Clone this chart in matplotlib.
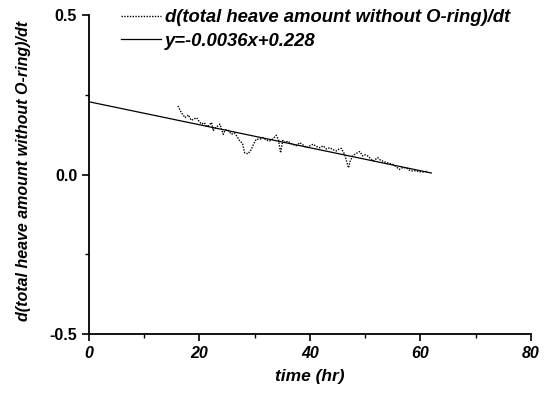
import numpy as np
import matplotlib
matplotlib.use("Agg")
import matplotlib.pyplot as plt
from matplotlib.ticker import MultipleLocator

# time (hr) and derivative values
time_hr = [16.1, 16.7, 17.4, 18.0, 18.5, 18.9, 19.5, 20.0, 20.4, 20.9, 21.3, 21.8,
           22.2, 22.5, 23.0, 23.7, 24.3, 24.7, 25.2, 25.8, 26.3, 26.8, 27.3, 27.8,
           28.2, 28.8, 29.4, 29.8, 30.3, 30.9, 31.5, 32.1, 32.7, 33.3, 33.9, 34.3,
           34.7, 35.1, 35.6, 36.0, 36.5, 36.9, 37.5, 38.2, 38.8, 39.4, 40.0, 40.6,
           41.2, 41.8, 42.4, 43.0, 43.6, 44.2, 44.8, 45.3, 45.7, 46.3, 47.0, 47.3,
           47.8, 48.4, 49.0, 49.6, 50.0, 50.5, 51.0, 51.4, 51.9, 52.3, 52.8, 53.2,
           53.8, 54.4, 55.0, 55.6, 56.2, 56.8, 57.5, 58.0, 58.6, 59.2, 59.9, 60.6,
           61.4]
rate = [0.215, 0.195, 0.178, 0.187, 0.170, 0.173, 0.178, 0.165, 0.158, 0.162, 0.150, 0.155,
        0.163, 0.137, 0.148, 0.158, 0.126, 0.140, 0.139, 0.126, 0.130, 0.120, 0.105, 0.098,
        0.068, 0.065, 0.079, 0.095, 0.111, 0.110, 0.116, 0.108, 0.105, 0.112, 0.123, 0.110,
        0.068, 0.107, 0.100, 0.105, 0.098, 0.095, 0.090, 0.100, 0.092, 0.084, 0.090, 0.095,
        0.088, 0.084, 0.090, 0.080, 0.084, 0.078, 0.074, 0.080, 0.082, 0.063, 0.021, 0.042,
        0.060, 0.066, 0.072, 0.058, 0.062, 0.058, 0.050, 0.042, 0.048, 0.053, 0.045, 0.042,
        0.038, 0.035, 0.032, 0.025, 0.016, 0.022, 0.021, 0.014, 0.011, 0.012, 0.009, 0.008,
        0.011]

slope = -0.0036
intercept = 0.228
fit_x = np.array([0, 62])

fig = plt.figure(figsize=(5.44, 3.94), dpi=100)
ax = fig.add_axes([0.1636, 0.152, 0.812, 0.810])

ax.plot(time_hr, rate, color="black", linestyle=(0, (1, 1)), linewidth=1.0,
        label="d(total heave amount without O-ring)/dt")
ax.plot(fit_x, slope * fit_x + intercept, color="black", linewidth=0.9,
        label="y=-0.0036x+0.228")

ax.set_xlim(0, 80)
ax.set_ylim(-0.5, 0.5)
ax.spines["top"].set_visible(False)
ax.spines["right"].set_visible(False)
for s in ("left", "bottom"):
    ax.spines[s].set_linewidth(1.3)

ax.xaxis.set_major_locator(MultipleLocator(20))
ax.xaxis.set_minor_locator(MultipleLocator(10))
ax.set_yticks([-0.5, 0.0, 0.5])
ax.set_yticklabels(["-0.5", "0.0", "0.5"])
ax.yaxis.set_minor_locator(MultipleLocator(0.25))
ax.tick_params(which="major", direction="out", length=5, width=1.2)
ax.tick_params(which="minor", direction="out", length=3, width=1.0)

font = "Liberation Sans"
for lbl in ax.get_xticklabels():
    lbl.set_fontfamily(font)
    lbl.set_fontweight("bold")
    lbl.set_fontstyle("italic")
    lbl.set_fontsize(11.5)
for lbl in ax.get_yticklabels():
    lbl.set_fontfamily(font)
    lbl.set_fontweight("bold")
    lbl.set_fontsize(11.5)

ax.set_xlabel("time (hr)", fontfamily=font, fontweight="bold", fontstyle="italic",
              fontsize=12.5, labelpad=6)
ax.set_ylabel("d(total heave amount without O-ring)/dt", fontfamily=font,
              fontweight="bold", fontstyle="italic", fontsize=11.5)
ax.yaxis.set_label_coords(-0.132, 0.51)

leg = ax.legend(loc="upper left", bbox_to_anchor=(0.034, 1.07), frameon=False,
                prop={"family": font, "weight": "bold", "style": "italic", "size": 13.3},
                handlelength=2.2, handletextpad=0.2, labelspacing=0.35)

fig.savefig("out.png", dpi=100)
